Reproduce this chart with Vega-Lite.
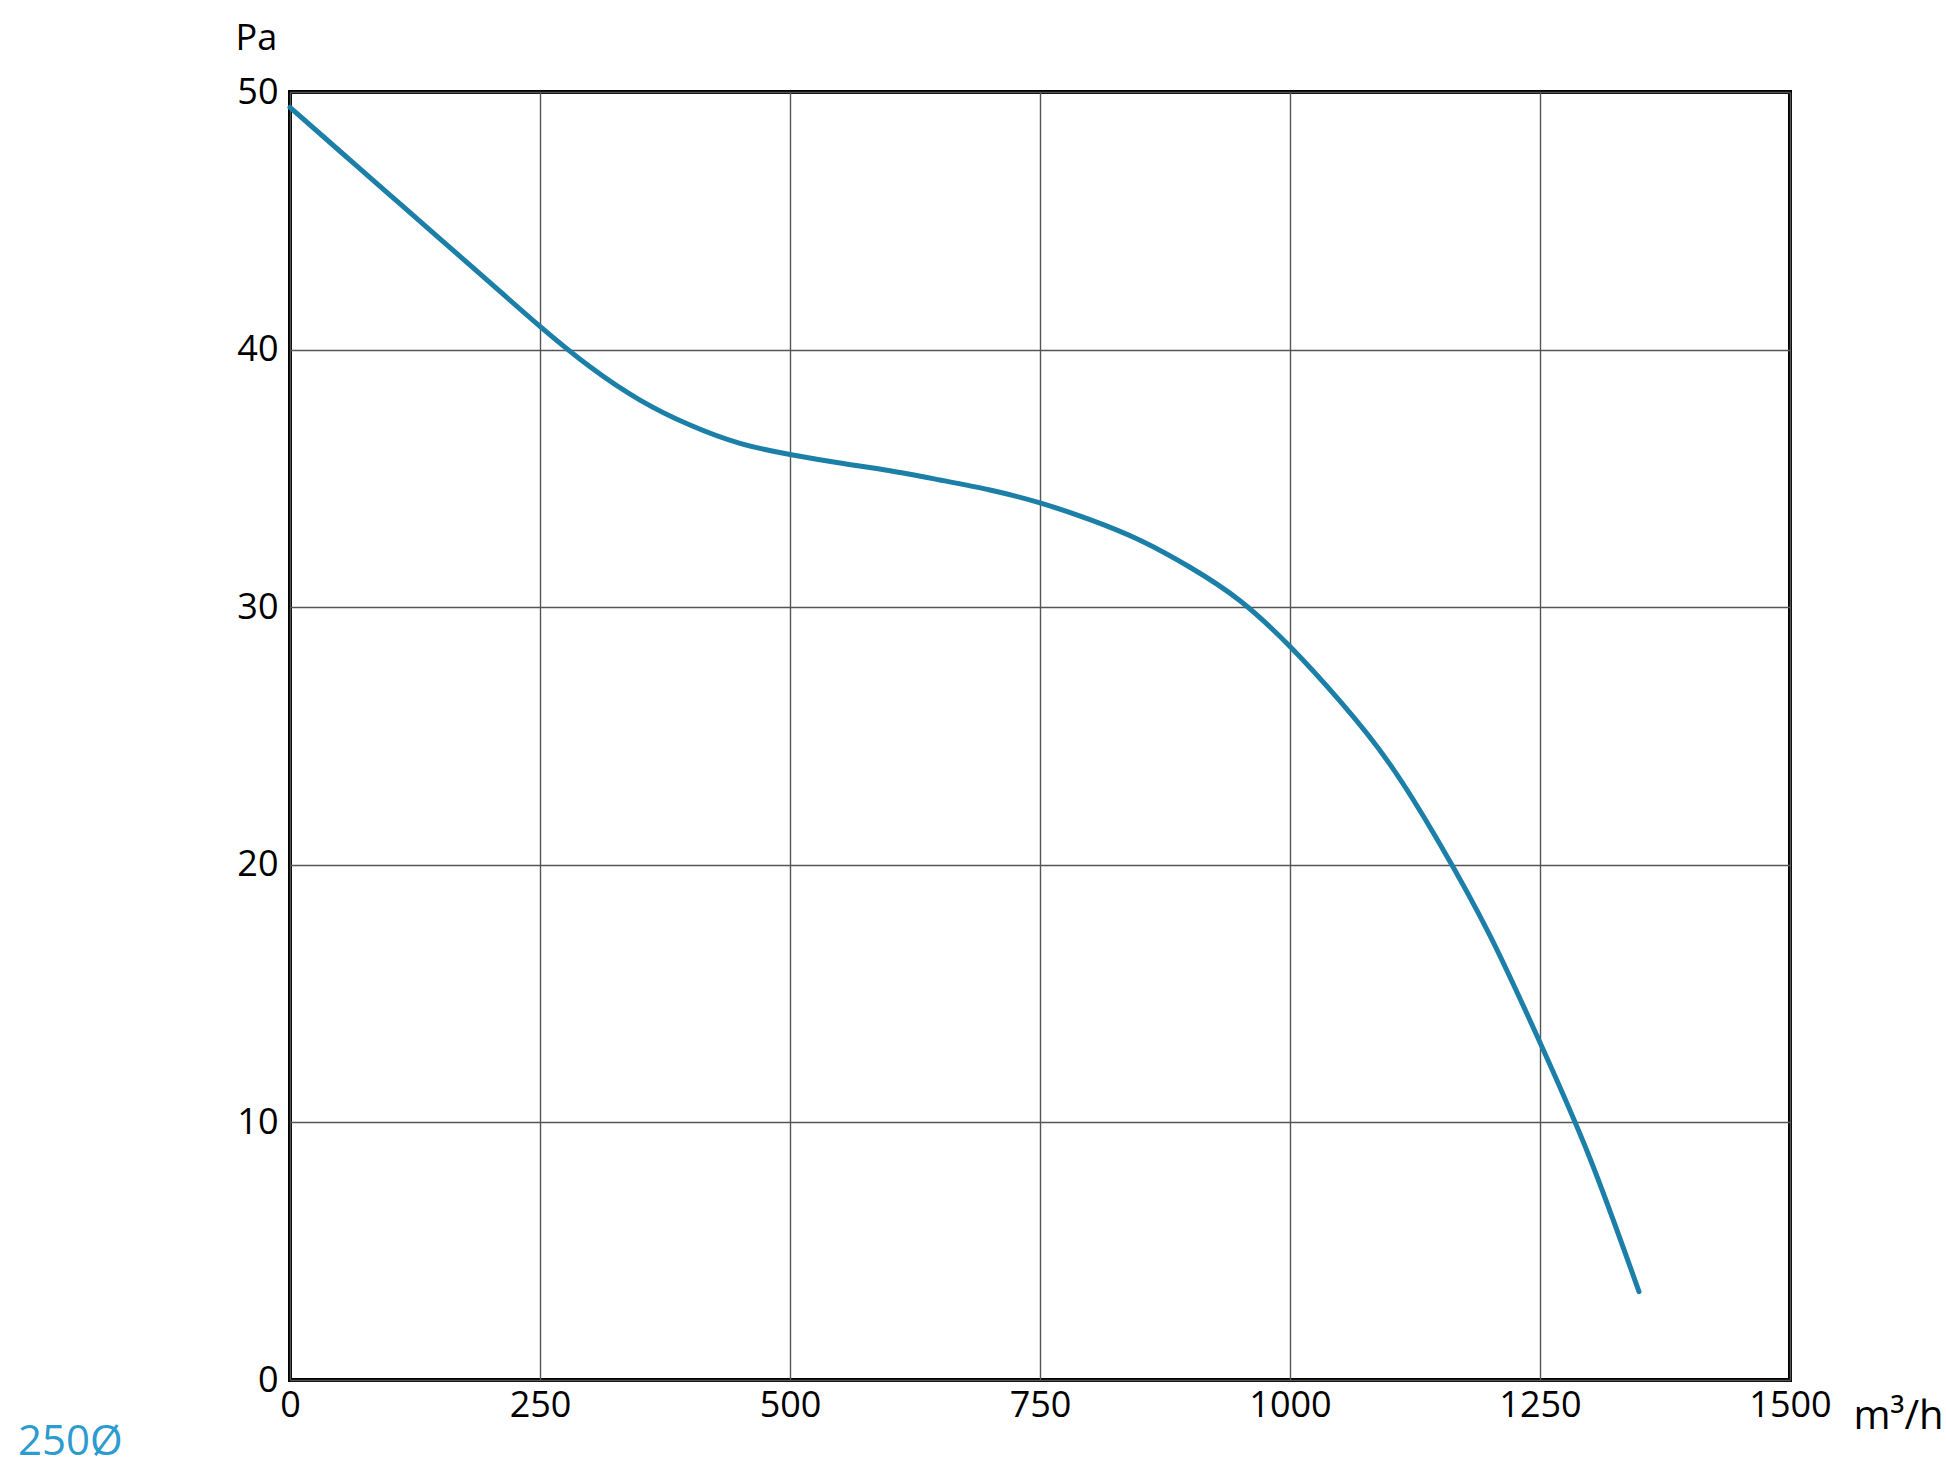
{
  "$schema": "https://vega.github.io/schema/vega-lite/v6.json",
  "autosize": "none",
  "width": 1500,
  "height": 1288,
  "padding": {"left": 290, "top": 92, "right": 156, "bottom": 96},
  "background": "white",
  "config": {
    "font": "Open Sans",
    "view": {"stroke": "black", "strokeWidth": 4},
    "axis": {
      "labelFont": "Open Sans",
      "labelFontSize": 36,
      "labelColor": "black",
      "titleFont": "Open Sans",
      "titleFontSize": 36,
      "titleFontWeight": "normal",
      "titleColor": "black",
      "ticks": false,
      "domain": false,
      "gridColor": "#555555",
      "gridWidth": 1.4,
      "gridOpacity": 1
    }
  },
  "title": {
    "text": "250Ø",
    "orient": "bottom",
    "anchor": "start",
    "frame": "group",
    "dx": -272,
    "dy": -18,
    "font": "Open Sans",
    "fontSize": 42,
    "fontWeight": "normal",
    "color": "#2b9bd0"
  },
  "data": {
    "values": [
      {"q": 0, "p": 49.4},
      {"q": 50, "p": 47.7},
      {"q": 100, "p": 46.0},
      {"q": 150, "p": 44.3},
      {"q": 200, "p": 42.6},
      {"q": 250, "p": 40.9},
      {"q": 300, "p": 39.33},
      {"q": 350, "p": 38.04},
      {"q": 400, "p": 37.07},
      {"q": 450, "p": 36.36},
      {"q": 500, "p": 35.93},
      {"q": 550, "p": 35.6},
      {"q": 600, "p": 35.3},
      {"q": 650, "p": 34.94},
      {"q": 700, "p": 34.55},
      {"q": 750, "p": 34.05},
      {"q": 800, "p": 33.4},
      {"q": 850, "p": 32.6},
      {"q": 900, "p": 31.55},
      {"q": 950, "p": 30.25},
      {"q": 1000, "p": 28.47},
      {"q": 1050, "p": 26.35},
      {"q": 1100, "p": 23.9},
      {"q": 1150, "p": 20.8},
      {"q": 1200, "p": 17.25},
      {"q": 1250, "p": 13.1},
      {"q": 1300, "p": 8.6},
      {"q": 1349, "p": 3.43}
    ]
  },
  "mark": {"type": "line", "color": "#1b7fa8", "strokeWidth": 5, "interpolate": "natural", "strokeCap": "round"},
  "encoding": {
    "x": {
      "field": "q",
      "type": "quantitative",
      "scale": {"domain": [0, 1500], "nice": false, "zero": false},
      "axis": {
        "values": [0, 250, 500, 750, 1000, 1250, 1500],
        "format": "d",
        "labelPadding": 8,
        "labelFlush": false,
        "labelOverlap": false,
        "title": "m³/h",
        "titleFontSize": 40,
        "titleAnchor": "start",
        "titleAlign": "left",
        "titleBaseline": "alphabetic",
        "titleX": 1563,
        "titleY": 48
      }
    },
    "y": {
      "field": "p",
      "type": "quantitative",
      "scale": {"domain": [0, 50], "nice": false},
      "axis": {
        "values": [0, 10, 20, 30, 40, 50],
        "format": "d",
        "labelPadding": 12,
        "labelFlush": false,
        "labelOverlap": false,
        "title": "Pa",
        "titleAngle": 0,
        "titleAlign": "left",
        "titleBaseline": "alphabetic",
        "titleX": -55,
        "titleY": -43
      }
    }
  }
}
